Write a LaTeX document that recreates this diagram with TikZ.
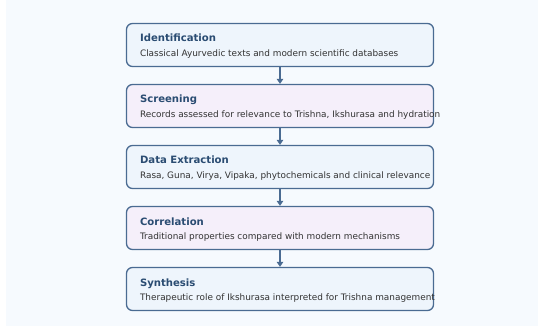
\documentclass[tikz,border=0pt]{standalone}
\usepackage{fontspec}
\setmainfont{DejaVu Sans}
\usetikzlibrary{positioning,arrows.meta}
\definecolor{edgeblue}{HTML}{4A6B92}
\definecolor{titleblue}{HTML}{2A4C72}
\definecolor{fillblue}{HTML}{EEF5FC}
\definecolor{filllilac}{HTML}{F5EFFA}
\definecolor{panel}{HTML}{F6FAFE}
\definecolor{bodytext}{HTML}{333333}
\begin{document}
\begin{tikzpicture}[x=1pt,y=-1pt,
  stage/.style = {draw=edgeblue, line width=1.3pt, rounded corners=6pt, minimum width=307pt, minimum height=43pt, inner sep=0pt},
  head/.style = {anchor=base west, inner sep=0pt, font=\fontsize{10.1}{12}\selectfont\bfseries, text=titleblue},
  body/.style = {anchor=base west, inner sep=0pt, font=\fontsize{8.9}{10}\selectfont, text=bodytext},
  flow/.style = {draw=edgeblue, line width=1.8pt, -{Triangle[length=5pt,width=6.5pt]}}]
\useasboundingbox (0,0) rectangle (538,326);
\fill[white] (0,0) rectangle (538,326);
\fill[panel] (6,0) rectangle (538,326);
% stages
\node[stage, fill=fillblue] (ident) at (280,45) {};
\node[stage, fill=filllilac, below=16.7pt of ident] (screen) {};
\node[stage, fill=fillblue, below=16.7pt of screen] (extract) {};
\node[stage, fill=filllilac, below=16.7pt of extract] (correl) {};
\node[stage, fill=fillblue, below=16.7pt of correl] (synth) {};
% texts
\node[head] (identh) at ([xshift=14pt,yshift=3pt]ident.west) {Identification};
\node[body] (identb) at ([xshift=14pt,yshift=-11.5pt]ident.west) {Classical Ayurvedic texts and modern scientific databases};
\node[head] (screenh) at ([xshift=14pt,yshift=3pt]screen.west) {Screening};
\node[body] (screenb) at ([xshift=14pt,yshift=-11.5pt]screen.west) {Records assessed for relevance to Trishna, Ikshurasa and hydration};
\node[head] (extracth) at ([xshift=14pt,yshift=3pt]extract.west) {Data Extraction};
\node[body] (extractb) at ([xshift=14pt,yshift=-11.5pt]extract.west) {Rasa, Guna, Virya, Vipaka, phytochemicals and clinical relevance};
\node[head] (correlh) at ([xshift=14pt,yshift=3pt]correl.west) {Correlation};
\node[body] (correlb) at ([xshift=14pt,yshift=-11.5pt]correl.west) {Traditional properties compared with modern mechanisms};
\node[head] (synthh) at ([xshift=14pt,yshift=3pt]synth.west) {Synthesis};
\node[body] (synthb) at ([xshift=14pt,yshift=-11.5pt]synth.west) {Therapeutic role of Ikshurasa interpreted for Trishna management};
% arrows
\draw[flow] (ident) -- (screen);
\draw[flow] (screen) -- (extract);
\draw[flow] (extract) -- (correl);
\draw[flow] (correl) -- (synth);
\end{tikzpicture}
\end{document}
